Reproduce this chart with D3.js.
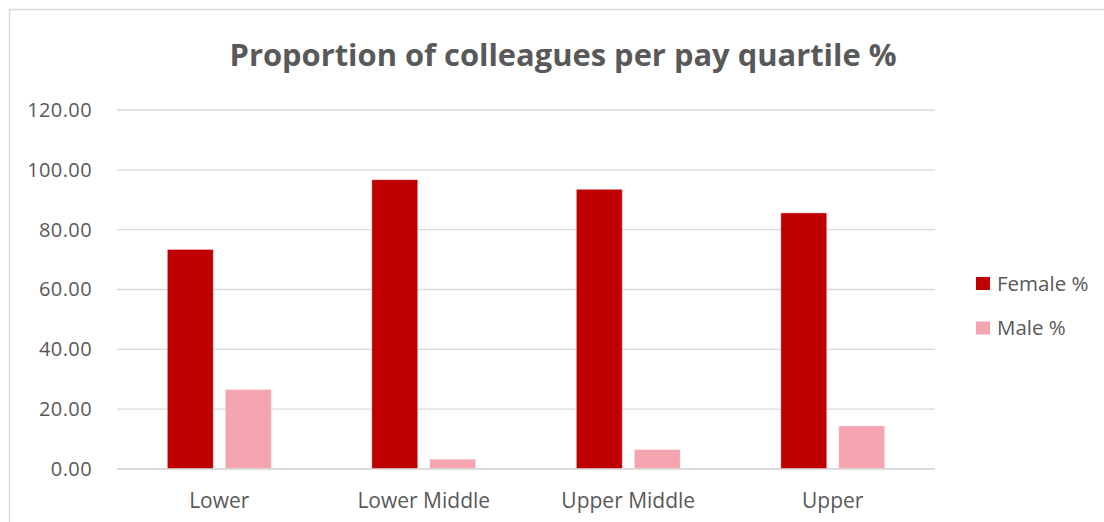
<!DOCTYPE html>
<html>
<head>
<meta charset="utf-8">
<script src="https://cdn.jsdelivr.net/npm/d3@7"></script>
<style>
  html, body { margin: 0; padding: 0; background: #fff; }
  svg { display: block; }
  text { font-family: "Open Sans", "Noto Sans", sans-serif; fill: #595959; }
</style>
</head>
<body>
<svg id="chart" width="1104" height="522"></svg>
<script>
// chart values
const categories = ["Lower", "Lower Middle", "Upper Middle", "Upper"];
const series = ["Female %", "Male %"];
const femaleValues = [73.4, 96.7, 93.5, 85.6];
const maleValues = [26.6, 3.3, 6.5, 14.4];
const yTicks = [0, 20, 40, 60, 80, 100, 120];
const colors = ["#c00000", "#f4a5b0"];

const svg = d3.select("#chart");
const width = 1104, height = 522;

// outer chart border
svg.append("rect")
  .attr("x", 9.5).attr("y", 9.5)
  .attr("width", width + 10).attr("height", height + 10)
  .attr("fill", "#fff")
  .attr("stroke", "#d9d9d9")
  .attr("stroke-width", 1.5);

// plot area
const plotLeft = 117, plotRight = 935, plotTop = 110, plotBottom = 469;

const x0 = d3.scaleBand().domain(categories).range([plotLeft, plotRight]).padding(0);
const bw = x0.bandwidth();
const x1 = d3.scaleBand().domain(series)
  .range([bw * 0.246, bw * 0.754])
  .paddingInner(0.207).paddingOuter(0);
const y = d3.scaleLinear().domain([0, 120]).range([plotBottom, plotTop]);

// gridlines
svg.append("g")
  .selectAll("line")
  .data(yTicks)
  .join("line")
  .attr("x1", plotLeft).attr("x2", plotRight)
  .attr("y1", d => y(d)).attr("y2", d => y(d))
  .attr("stroke", "#d9d9d9")
  .attr("stroke-width", 1.3);

// y axis labels
const yAxis = d3.axisLeft(y).tickValues(yTicks).tickFormat(d3.format(".2f")).tickSize(0).tickPadding(0);
svg.append("g")
  .attr("transform", `translate(${plotLeft - 25},0)`)
  .call(yAxis)
  .call(g => g.select(".domain").remove())
  .selectAll("text")
  .attr("fill", "#595959")
  .style("font-size", "20px")
  .style("letter-spacing", "0.4px")
  .style("font-family", "'Open Sans', sans-serif");

// bars
const rows = categories.map((c, i) => ({ cat: c, vals: [femaleValues[i], maleValues[i]] }));
svg.append("g")
  .selectAll("g")
  .data(rows)
  .join("g")
  .attr("transform", d => `translate(${x0(d.cat)},0)`)
  .selectAll("rect")
  .data(d => d.vals.map((v, j) => ({ key: series[j], value: v, color: colors[j] })))
  .join("rect")
  .attr("x", d => x1(d.key))
  .attr("y", d => y(d.value))
  .attr("width", x1.bandwidth())
  .attr("height", d => y(0) - y(d.value))
  .attr("fill", d => d.color)
  .attr("stroke", "#fff")
  .attr("stroke-opacity", 0.5)
  .attr("stroke-width", 0.8);

// redraw baseline on top of bars
svg.append("line")
  .attr("x1", plotLeft).attr("x2", plotRight)
  .attr("y1", y(0)).attr("y2", y(0))
  .attr("stroke", "#d9d9d9")
  .attr("stroke-width", 1.3);

// x axis labels
const xAxis = d3.axisBottom(x0).tickSize(0).tickPadding(0);
svg.append("g")
  .attr("transform", `translate(0,${plotBottom + 24})`)
  .call(xAxis)
  .call(g => g.select(".domain").remove())
  .selectAll("text")
  .attr("fill", "#595959")
  .style("font-size", "21px")
  .style("font-family", "'Open Sans', sans-serif");

// title
svg.append("text")
  .attr("x", 563)
  .attr("y", 66)
  .attr("text-anchor", "middle")
  .style("font-size", "31px")
  .style("font-weight", "bold")
  .attr("textLength", 667)
  .attr("lengthAdjust", "spacingAndGlyphs")
  .text("Proportion of colleagues per pay quartile %");

// legend
const legend = svg.append("g")
  .selectAll("g")
  .data(series)
  .join("g")
  .attr("transform", (d, i) => `translate(976,${277 + i * 44.5})`);
legend.append("rect")
  .attr("width", 14).attr("height", 13)
  .attr("fill", (d, i) => colors[i]);
legend.append("text")
  .attr("x", 21)
  .attr("y", 6.5)
  .attr("dy", "0.35em")
  .style("font-size", "20.5px")
  .text(d => d);
</script>
</body>
</html>
